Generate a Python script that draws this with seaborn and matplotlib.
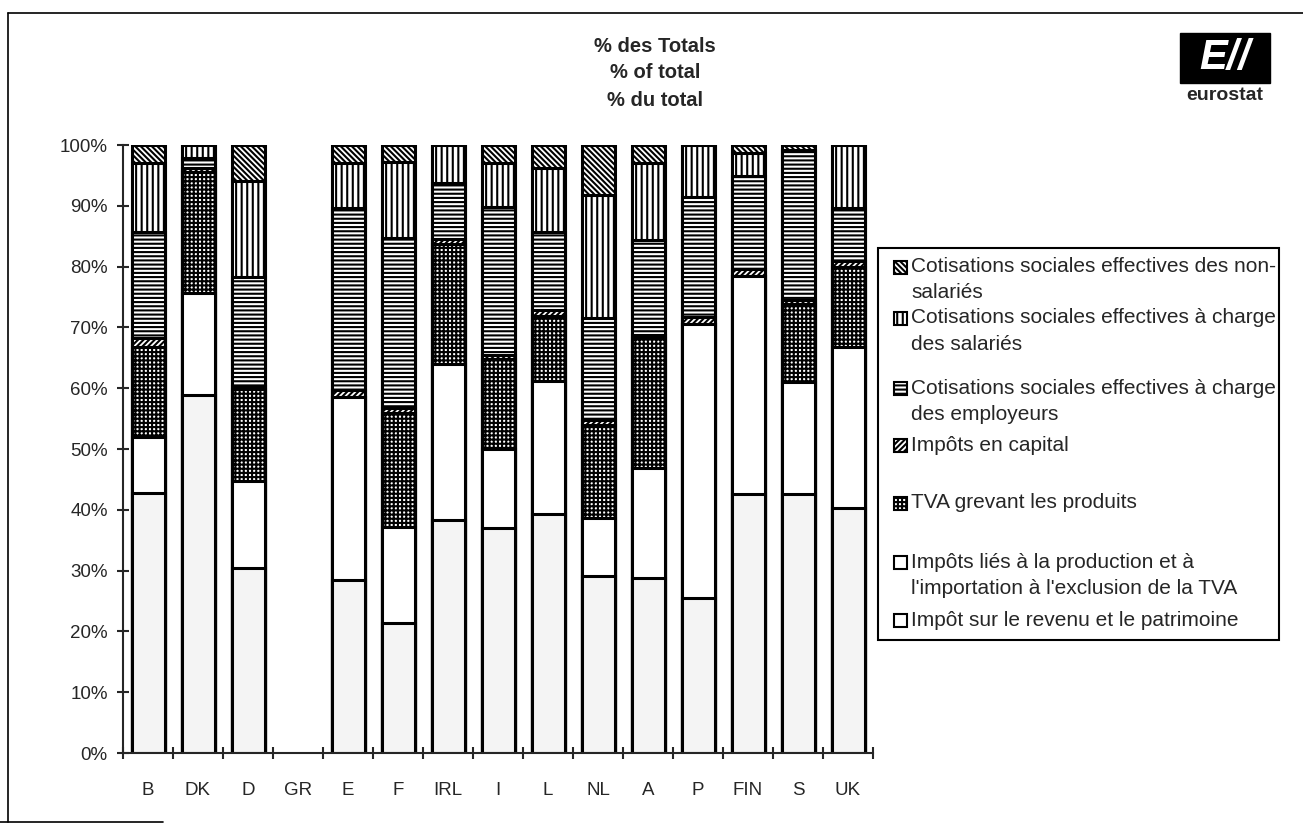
import numpy as np
import matplotlib
matplotlib.use("Agg")
import matplotlib.pyplot as plt
import seaborn as sns
from matplotlib.patches import Rectangle
from matplotlib.lines import Line2D

nan = np.nan
countries = ["B", "DK", "D", "GR", "E", "F", "IRL", "I", "L", "NL", "A", "P", "FIN", "S", "UK"]

# parts in % of total, bottom to top
revenu = [42.7, 58.8, 30.4, nan, 28.4, 21.4, 38.4, 37.0, 39.3, 29.1, 28.8, 25.5, 42.6, 42.6, 40.3]
production = [9.3, 16.8, 14.4, nan, 30.1, 15.8, 25.5, 13.0, 21.9, 9.6, 18.0, 45.0, 35.8, 18.4, 26.4]
tva = [14.7, 20.0, 15.0, nan, 0.0, 18.8, 19.8, 14.8, 10.6, 15.3, 21.4, 0.0, 0.0, 12.9, 13.3]
capital = [1.5, 0.6, 0.5, nan, 1.2, 0.7, 0.8, 0.7, 1.0, 0.7, 0.6, 1.2, 1.2, 0.6, 1.0]
employeurs = [17.5, 1.7, 18.0, nan, 30.0, 28.0, 9.2, 24.3, 12.9, 16.8, 15.5, 19.7, 15.3, 24.5, 8.7]
salaries = [11.3, 2.1, 15.8, nan, 7.3, 12.5, 6.3, 7.2, 10.5, 20.2, 12.8, 8.6, 3.8, 0.2, 10.3]
non_salaries = [3.0, 0.0, 5.9, nan, 3.0, 2.8, 0.0, 3.0, 3.8, 8.3, 2.9, 0.0, 1.3, 0.8, 0.0]

labels = [
    "Impôt sur le revenu et le patrimoine",
    "Impôts liés à la production et à\nl'importation à l'exclusion de la TVA",
    "TVA grevant les produits",
    "Impôts en capital",
    "Cotisations sociales effectives à charge\ndes employeurs",
    "Cotisations sociales effectives à charge\ndes salariés",
    "Cotisations sociales effectives des non-\nsalariés",
]
series = [revenu, production, tva, capital, employeurs, salaries, non_salaries]
hatches = [None, None, "++++", "//////", "----", "|||", "\\\\\\\\\\\\"]
faces = ["#f4f4f4", "white", "white", "white", "white", "white", "white"]

sns.set_style("ticks")
plt.rcParams["font.family"] = ["Liberation Sans", "DejaVu Sans"]
plt.rcParams["hatch.linewidth"] = 1.5

W, H = 1303, 824
fig = plt.figure(figsize=(W / 100, H / 100), dpi=100)
ax = fig.add_axes([123 / W, 1 - 753 / H, 750 / W, 608 / H])

cum = np.nancumsum(np.array(series, dtype=float), axis=0)
cum[:, 3] = nan
# draw from the top down so each lower stack covers the one above
for i in range(len(series) - 1, -1, -1):
    sns.barplot(x=countries, y=cum[i], order=countries, color=faces[i], saturation=1,
                edgecolor="black", linewidth=2.2, hatch=hatches[i], width=0.66,
                errorbar=None, ax=ax)

ax.set_ylim(0, 100)
ax.set_xlim(-0.5, len(countries) - 0.5)
ax.set_yticks(range(0, 101, 10))
ax.set_yticklabels([f"{v}%" for v in range(0, 101, 10)])
ax.set_xticks(range(len(countries)))
ax.set_xticklabels(countries)
ax.set_xticks(np.arange(-0.5, len(countries), 1), minor=True)
ax.tick_params(axis="y", direction="inout", length=8, width=1.5, labelsize=13.5, pad=7)
ax.tick_params(axis="x", which="major", length=0, labelsize=13.5, pad=21)
ax.tick_params(axis="x", which="minor", direction="inout", length=9, width=1.5)
ax.set_xlabel("")
ax.set_ylabel("")
for s in ["top", "right"]:
    ax.spines[s].set_visible(False)
for s in ["left", "bottom"]:
    ax.spines[s].set_linewidth(1.5)


def fx(px):
    return px / W


def fy(py):
    return 1 - py / H


# title
for txt, y in zip(["% des Totals", "% of total", "% du total"], [46, 73, 100]):
    fig.text(fx(655), fy(y), txt, ha="center", va="center", fontsize=14.5, fontweight="bold")

# legend drawn by hand, top entry first
fig.add_artist(Rectangle((fx(878), fy(640)), (1279 - 878) / W, (640 - 248) / H,
                         transform=fig.transFigure, fill=False, lw=1.5, ec="black"))
ys = [620, 562, 503, 445, 388, 318, 267]
for i in range(len(labels)):
    y = ys[i]
    fig.add_artist(Rectangle((fx(894), fy(y + 7)), 13 / W, 13 / H, transform=fig.transFigure,
                             fc=faces[i] if i > 0 else "white", ec="black", lw=1.5,
                             hatch=hatches[i]))
    for j, line in enumerate(labels[i].split("\n")):
        fig.text(fx(911), fy(y + j * 26), line, ha="left", va="center", fontsize=15)

# frame of the scanned page
fig.add_artist(Line2D([fx(8), fx(8)], [fy(13), fy(822)], transform=fig.transFigure, color="black", lw=1.2))
fig.add_artist(Line2D([fx(8), fx(1303)], [fy(13), fy(13)], transform=fig.transFigure, color="black", lw=1.2))
fig.add_artist(Line2D([fx(0), fx(163)], [fy(822), fy(822)], transform=fig.transFigure, color="black", lw=1.2))

# logo
fig.add_artist(Rectangle((fx(1180), fy(83)), 90 / W, 50 / H, transform=fig.transFigure,
                         fc="black", ec="black"))
fig.text(fx(1225), fy(58), "E//", ha="center", va="center", fontsize=30, fontweight="bold",
         fontstyle="italic", color="white")
fig.text(fx(1225), fy(95), "eurostat", ha="center", va="center", fontsize=14, fontweight="bold")

fig.savefig("out.png", dpi=100)
